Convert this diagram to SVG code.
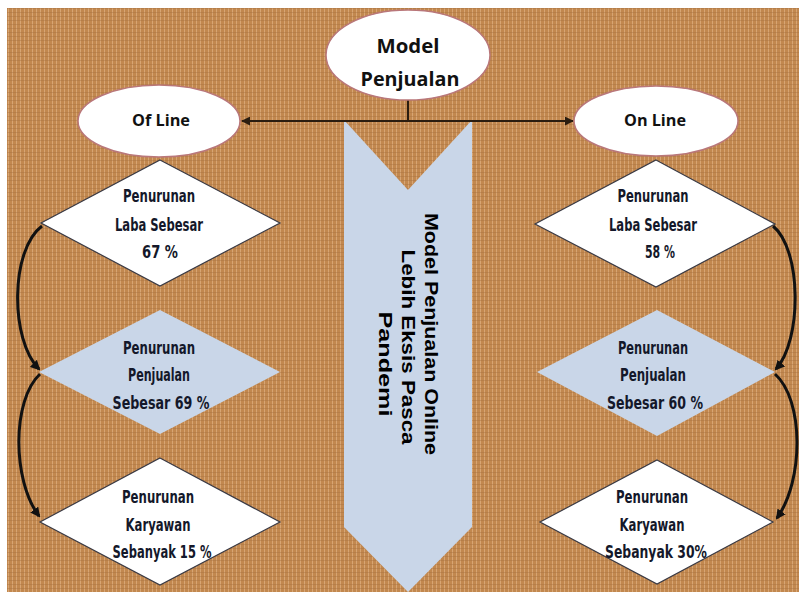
<svg xmlns="http://www.w3.org/2000/svg" width="799" height="592" viewBox="0 0 799 592">
<style>
.ell{fill:#ffffff;stroke:#b9777a;stroke-width:1.5}
.dw{fill:#ffffff;stroke:#3a3a44;stroke-width:1.2}
.db{fill:#c9d6e8;stroke:none}
.et{font-family:"Open Sans","Liberation Sans",sans-serif;font-weight:bold;fill:#111;text-anchor:middle;dominant-baseline:central}
.dt{font-family:"DejaVu Sans Condensed","DejaVu Sans",sans-serif;font-weight:bold;font-size:17px;fill:#14182a;text-anchor:middle;dominant-baseline:central}
.vt{font-family:"Liberation Sans",Arial,sans-serif;font-weight:900;font-size:19px;fill:#000;text-anchor:middle;dominant-baseline:central}
.ln{fill:none;stroke:#2b1d10;stroke-width:2}
.cv{fill:none;stroke:#111;stroke-width:3}
</style>
<defs>
<pattern id="burlap" width="4" height="4" patternUnits="userSpaceOnUse">
<rect width="4" height="4" fill="#c2884f"/>
<rect width="1" height="4" fill="#dcad7c" opacity="0.8"/>
<rect width="4" height="1" fill="#a56e3e" opacity="0.4"/>
</pattern>
<marker id="ah" viewBox="0 0 10 10" refX="9" refY="5" markerWidth="9" markerHeight="9" markerUnits="userSpaceOnUse" orient="auto">
<path d="M0,0 L10,5 L0,10 z" fill="#2b1d10"/>
</marker>
<marker id="ac" viewBox="0 0 10 10" refX="8" refY="5" markerWidth="10" markerHeight="10" markerUnits="userSpaceOnUse" orient="auto">
<path d="M0,0 L10,5 L0,10 z" fill="#111"/>
</marker>
</defs>
<rect x="0" y="0" width="799" height="592" fill="#ffffff"/>
<rect x="7" y="8" width="792" height="584" fill="url(#burlap)"/>

<g id="pandemi-arrow">
<polygon points="344,120 408,190 472,120 472,527 408,592 344,527" fill="#c9d6e8"/>
<text class="vt" transform="translate(431,334) rotate(90)" textLength="242" lengthAdjust="spacingAndGlyphs">Model Penjualan Online</text>
<text class="vt" transform="translate(408,347) rotate(90)" textLength="195" lengthAdjust="spacingAndGlyphs">Lebih Eksis Pasca</text>
<text class="vt" transform="translate(385,364) rotate(90)" textLength="105" lengthAdjust="spacingAndGlyphs">Pandemi</text>
</g>

<g id="connectors">
<line class="ln" x1="408" y1="99" x2="408" y2="121"/>
<line class="ln" x1="408" y1="121" x2="242" y2="121" marker-end="url(#ah)"/>
<line class="ln" x1="408" y1="121" x2="573" y2="121" marker-end="url(#ah)"/>
<path class="cv" d="M42,226 C10,250 10,340 39,369" marker-end="url(#ac)"/>
<path class="cv" d="M40,374 C12,400 12,480 39,516" marker-end="url(#ac)"/>
<path class="cv" d="M773,226 C802,250 802,340 776,369" marker-end="url(#ac)"/>
<path class="cv" d="M775,374 C804,400 804,480 777,518" marker-end="url(#ac)"/>
</g>

<g id="model-penjualan">
<ellipse class="ell" cx="408" cy="55" rx="82" ry="45"/>
<text class="et" x="408" y="46" font-size="19" textLength="63" lengthAdjust="spacingAndGlyphs">Model</text>
<text class="et" x="410" y="79" font-size="19" textLength="99" lengthAdjust="spacingAndGlyphs">Penjualan</text>
</g>

<g id="of-line">
<ellipse class="ell" cx="159" cy="121" rx="81" ry="36"/>
<text class="et" x="161" y="120" font-size="16" textLength="58" lengthAdjust="spacingAndGlyphs">Of Line</text>
</g>

<g id="on-line">
<ellipse class="ell" cx="656" cy="121" rx="82" ry="35"/>
<text class="et" x="655" y="120" font-size="16" textLength="62" lengthAdjust="spacingAndGlyphs">On Line</text>
</g>

<g id="off-laba">
<polygon class="dw" points="160,160 280,223 160,286 41,223"/>
<text class="dt" x="159" y="196" textLength="72" lengthAdjust="spacingAndGlyphs">Penurunan</text>
<text class="dt" x="159" y="225" textLength="88" lengthAdjust="spacingAndGlyphs">Laba Sebesar</text>
<text class="dt" x="160" y="252" textLength="36" lengthAdjust="spacingAndGlyphs">67 %</text>
</g>

<g id="off-penjualan">
<polygon class="db" points="160,310 280,372 160,434 39,372"/>
<text class="dt" x="159" y="348" textLength="72" lengthAdjust="spacingAndGlyphs">Penurunan</text>
<text class="dt" x="159" y="375" textLength="62" lengthAdjust="spacingAndGlyphs">Penjualan</text>
<text class="dt" x="161" y="403" textLength="97" lengthAdjust="spacingAndGlyphs">Sebesar 69 %</text>
</g>

<g id="off-karyawan">
<polygon class="dw" points="160,458 280,522 160,585 40,522"/>
<text class="dt" x="158" y="497" textLength="72" lengthAdjust="spacingAndGlyphs">Penurunan</text>
<text class="dt" x="158" y="525" textLength="65" lengthAdjust="spacingAndGlyphs">Karyawan</text>
<text class="dt" x="162" y="552" textLength="99" lengthAdjust="spacingAndGlyphs">Sebanyak 15 %</text>
</g>

<g id="on-laba">
<polygon class="dw" points="656,160 775,224 656,287 535,224"/>
<text class="dt" x="653" y="196" textLength="71" lengthAdjust="spacingAndGlyphs">Penurunan</text>
<text class="dt" x="653" y="225" textLength="88" lengthAdjust="spacingAndGlyphs">Laba Sebesar</text>
<text class="dt" x="660" y="252" textLength="30" lengthAdjust="spacingAndGlyphs">58 %</text>
</g>

<g id="on-penjualan">
<polygon class="db" points="657,310 775,372 657,436 537,372"/>
<text class="dt" x="653" y="348" textLength="70" lengthAdjust="spacingAndGlyphs">Penurunan</text>
<text class="dt" x="653" y="375" textLength="66" lengthAdjust="spacingAndGlyphs">Penjualan</text>
<text class="dt" x="655" y="403" textLength="96" lengthAdjust="spacingAndGlyphs">Sebesar 60 %</text>
</g>

<g id="on-karyawan">
<polygon class="dw" points="657,460 773,522 657,584 540,522"/>
<text class="dt" x="652" y="497" textLength="72" lengthAdjust="spacingAndGlyphs">Penurunan</text>
<text class="dt" x="652" y="525" textLength="65" lengthAdjust="spacingAndGlyphs">Karyawan</text>
<text class="dt" x="656" y="552" textLength="102" lengthAdjust="spacingAndGlyphs">Sebanyak 30%</text>
</g>
</svg>
